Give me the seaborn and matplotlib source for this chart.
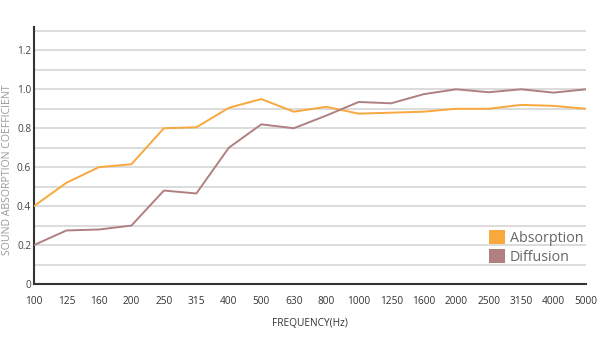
import matplotlib
matplotlib.use("Agg")
import matplotlib.pyplot as plt
from matplotlib.patches import Patch
import seaborn as sns
import pandas as pd
import numpy as np

frequencies = ["100", "125", "160", "200", "250", "315", "400", "500", "630", "800",
               "1000", "1250", "1600", "2000", "2500", "3150", "4000", "5000"]
absorption = [0.40, 0.52, 0.60, 0.615, 0.80, 0.805, 0.905, 0.95, 0.885, 0.91,
              0.875, 0.88, 0.885, 0.90, 0.90, 0.92, 0.915, 0.90]
diffusion = [0.20, 0.275, 0.28, 0.30, 0.48, 0.465, 0.70, 0.82, 0.80, 0.865,
             0.935, 0.928, 0.975, 1.00, 0.985, 1.00, 0.983, 1.00]
series_names = ["Absorption", "Diffusion"]
y_ticks = [0, 0.2, 0.4, 0.6, 0.8, 1.0, 1.2]
y_tick_labels = ["0", "0.2", "0.4", "0.6", "0.8", "1.0", "1.2"]

colors = {"Absorption": "#f8a83c", "Diffusion": "#b08081"}

pos = np.arange(len(frequencies))
df = pd.DataFrame({
    "pos": np.concatenate([pos, pos]),
    "value": absorption + diffusion,
    "series": [series_names[0]] * len(pos) + [series_names[1]] * len(pos),
})

sns.set_style("white")
plt.rcParams["font.family"] = ["Open Sans", "DejaVu Sans"]

fig = plt.figure(figsize=(6, 3.5), dpi=100)
ax = fig.add_axes([34 / 600, 1 - 284 / 350, 552 / 600, 257 / 350])

# gridlines
for g in np.arange(0.1, 1.31, 0.1):
    ax.axhline(g, color="#d6d6d6", lw=1.2, zorder=0)

sns.lineplot(data=df, x="pos", y="value", hue="series", palette=colors,
             linewidth=1.4, ax=ax, legend=False, zorder=3)

ax.set_xlim(0, len(frequencies) - 1)
ax.set_ylim(0, 1.32)
ax.set_xticks(pos)
ax.set_xticklabels(frequencies, fontsize=7.3, color="#333333")
ax.set_yticks(y_ticks)
ax.set_yticklabels(y_tick_labels, fontsize=7.3, color="#444444")
ax.tick_params(axis="x", direction="out", length=3.5, width=1.2, color="#333333", pad=5)
ax.tick_params(axis="y", length=0, pad=2)
ax.set_xlabel("FREQUENCY(Hz)", fontsize=7.3, color="#333333", labelpad=8)
ax.set_ylabel("")

for s in ["top", "right"]:
    ax.spines[s].set_visible(False)
for s in ["left", "bottom"]:
    ax.spines[s].set_color("#333333")
    ax.spines[s].set_linewidth(1.5)
ax.patch.set_alpha(0)

fig.text(8 / 600, 1 - 170 / 350, "SOUND ABSORPTION COEFFICIENT", rotation=90,
         ha="center", va="center", fontsize=7.6, color="#999999")

handles = [Patch(facecolor=colors[n], edgecolor="none", label=n) for n in series_names]
leg = ax.legend(handles=handles, loc="lower left", bbox_to_anchor=(489 / 600, 1 - 265 / 350),
                bbox_transform=fig.transFigure, frameon=False, fontsize=10.3,
                handlelength=1.1, handleheight=1.05, handletextpad=0.35,
                labelspacing=0.25, borderpad=0, borderaxespad=0)
for t in leg.get_texts():
    t.set_color("#666666")

fig.savefig("out.png", dpi=100)
